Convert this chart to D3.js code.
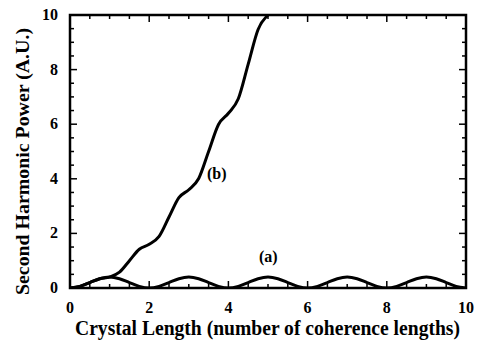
<!DOCTYPE html>
<html><head><meta charset="utf-8">
<script src="https://cdn.jsdelivr.net/npm/d3@7/dist/d3.min.js"></script>
<style>body{margin:0;background:#fff}svg{display:block}</style>
</head><body><svg id="c" width="477" height="341"></svg>
<script>
const xLen = [0,0.25,0.5,0.75,1,1.25,1.5,1.75,2,2.25,2.5,2.75,3,3.25,3.5,3.75,4,4.25,4.5,4.75,5,5.25,5.5,5.75,6,6.25,6.5,6.75,7,7.25,7.5,7.75,8,8.25,8.5,8.75,9,9.25,9.5,9.75,10];
const seriesA = [0,0.06,0.2,0.34,0.4,0.34,0.2,0.06,0,0.06,0.2,0.34,0.4,0.34,0.2,0.06,0,0.06,0.2,0.34,0.4,0.34,0.2,0.06,0,0.06,0.2,0.34,0.4,0.34,0.2,0.06,0,0.06,0.2,0.34,0.4,0.34,0.2,0.06,0];
const xLenB = [0,0.25,0.5,0.75,1,1.25,1.5,1.75,2,2.25,2.5,2.75,3,3.25,3.5,3.75,4,4.25,4.5,4.75,5];
const seriesB = [0,0.06,0.2,0.34,0.4,0.58,1.0,1.42,1.6,1.89,2.6,3.31,3.6,4.01,5.0,5.99,6.4,6.93,8.2,9.47,10.0];
const xTicks = [0,2,4,6,8,10];
const yTicks = [0,2,4,6,8,10];

const FONT = "'Liberation Serif', 'DejaVu Serif', 'Times New Roman', serif";
const svg = d3.select("#c");
const L=70,R=466,T=15,B=288;
const x = d3.scaleLinear().domain([0,10]).range([L,R]);
const y = d3.scaleLinear().domain([0,10]).range([B,T]);

svg.append("defs").append("clipPath").attr("id","clip").append("rect")
  .attr("x",L).attr("y",T).attr("width",R-L).attr("height",B-T);

const minor = d3.range(0,10.01,0.5);
const g = svg.append("g").attr("stroke","#000");
minor.forEach(v=>{
  const major = Math.abs(v/2-Math.round(v/2))<1e-6;
  const len = major?7:4;
  g.append("line").attr("x1",x(v)).attr("x2",x(v)).attr("y1",B).attr("y2",B-len).attr("stroke-width",1.5);
  g.append("line").attr("x1",x(v)).attr("x2",x(v)).attr("y1",T).attr("y2",T+len).attr("stroke-width",1.5);
  g.append("line").attr("y1",y(v)).attr("y2",y(v)).attr("x1",L).attr("x2",L+len).attr("stroke-width",1.5);
  g.append("line").attr("y1",y(v)).attr("y2",y(v)).attr("x1",R).attr("x2",R-len).attr("stroke-width",1.5);
});
svg.append("rect").attr("x",L).attr("y",T).attr("width",R-L).attr("height",B-T)
  .attr("fill","none").attr("stroke","#000").attr("stroke-width",2.5);

const line = d3.line().curve(d3.curveMonotoneX);
svg.append("path").attr("clip-path","url(#clip)")
  .attr("d",line(xLen.map((v,i)=>[x(v),y(seriesA[i])])))
  .attr("fill","none").attr("stroke","#000").attr("stroke-width",3);
svg.append("path").attr("clip-path","url(#clip)")
  .attr("d",line(xLenB.map((v,i)=>[x(v),y(seriesB[i])])))
  .attr("fill","none").attr("stroke","#000").attr("stroke-width",3);

function txt(){ return svg.append("text").attr("font-family",FONT).attr("font-weight","bold").attr("fill","#000"); }

xTicks.forEach(v=>txt().attr("x",x(v)).attr("y",313).attr("text-anchor","middle")
  .attr("font-size",16).text(v));
yTicks.forEach(v=>txt().attr("x",58).attr("y",y(v)+5).attr("text-anchor","end")
  .attr("font-size",16).text(v));

txt().attr("x",75).attr("y",335).attr("font-size",20)
  .attr("textLength",385).attr("lengthAdjust","spacingAndGlyphs")
  .text("Crystal Length (number of coherence lengths)");
txt().attr("transform","translate(29,295) rotate(-90)")
  .attr("font-size",19).attr("textLength",267).attr("lengthAdjust","spacingAndGlyphs")
  .text("Second Harmonic Power (A.U.)");

txt().attr("x",207).attr("y",179).attr("font-size",16).text("(b)");
txt().attr("x",259).attr("y",262).attr("font-size",16).text("(a)");
</script></body></html>
